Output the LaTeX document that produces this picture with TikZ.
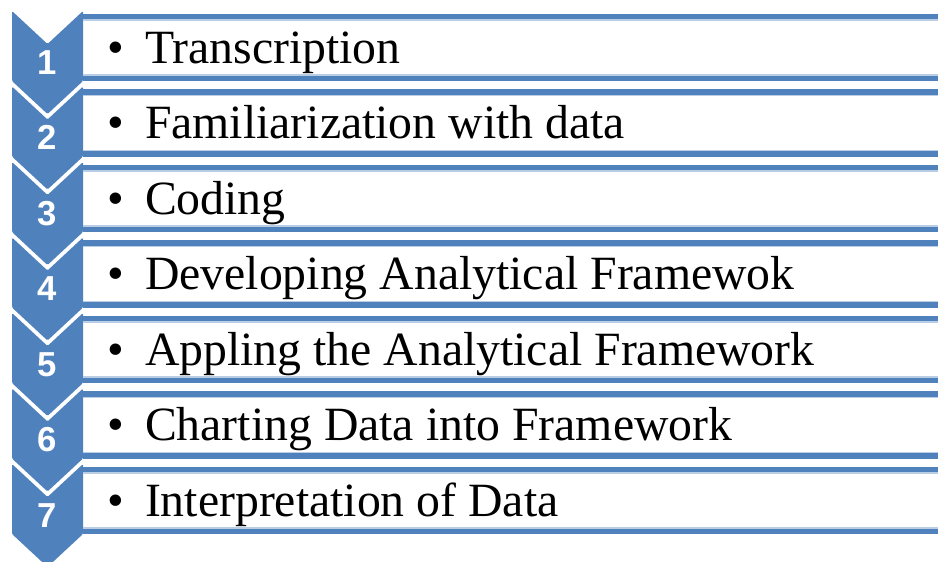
\documentclass[tikz,border=0pt]{standalone}
\usepackage{fontspec}
\setmainfont{Liberation Serif}
\newfontfamily\numfont{Liberation Sans}
\usepackage{tikz}
\usetikzlibrary{positioning}
\definecolor{chevblue}{HTML}{4F81BD}
\definecolor{barlight}{HTML}{B9CDE5}
\tikzset{
  every picture/.style={
    line join=round,
    line cap=butt,
  },
  chevron/.style={fill=chevblue, rounded corners=1pt},
  bar/.style={draw=chevblue, line width=4.1pt},
  barshade/.style={draw=barlight, line width=1pt},
  numlabel/.style={text=white, inner sep=0pt, anchor=base,
    font=\numfont\bfseries\fontsize{26}{30}\selectfont},
  itemtext/.style={inner sep=0pt, anchor=base west,
    font=\fontsize{35.8}{40}\selectfont},
}

\begin{document}
\begin{tikzpicture}[x=0.75pt,y=-0.75pt]
\useasboundingbox (0,0) rectangle (938,561);
\clip (0,0) rectangle (938,561);
\foreach \txt [count=\i] in {Transcription, Familiarization with data, Coding,
  Developing Analytical Framewok, Appling the Analytical Framework,
  Charting Data into Framework, Interpretation of Data}
{
  \pgfmathsetmacro\t{11+(\i-1)*75.5}
  % step chevron
  \fill[chevron] (12,\t) -- (47.5,\t+33) -- (83,\t) -- (83,\t+70)
    -- (47.5,\t+103) -- (12,\t+70) -- cycle;
  % top and bottom rules of the text box
  \draw[bar] (83,\t+5.5) -- (960,\t+5.5);
  \draw[barshade] (83,\t+9) -- (960,\t+9);
  \draw[bar] (83,\t+67.5) -- (960,\t+67.5);
  \draw[barshade] (83,\t+64) -- (960,\t+64);
  \node[numlabel] (num\i) at (47.5,\t+63) {\i};
  \node[itemtext] (item\i) at (107,\t+52) {•\hspace{15.8pt}\txt};
}
\end{tikzpicture}
\end{document}
